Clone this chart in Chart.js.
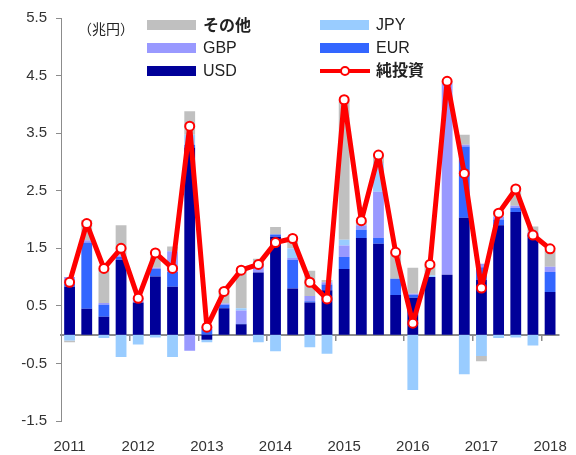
<!DOCTYPE html>
<html>
<head>
<meta charset="utf-8">
<script src="https://cdn.jsdelivr.net/npm/chart.js@4.4.0/dist/chart.umd.min.js"></script>
<style>
    body { margin: 0; background: #fff; }
    #wrap { position: relative; width: 576px; height: 455px; }
    .lg { position: absolute; font-family: "Liberation Sans", Arial, sans-serif; font-size: 16px; color: #222; line-height: 20px; }
    .jp { font-family: "Noto Sans CJK JP", sans-serif; font-weight: bold; font-size: 16px; }
    .sw { position: absolute; width: 49px; height: 10px; }
    .netline { position: absolute; width: 50px; height: 4px; background: #ff0000; }
    .netdot { position: absolute; width: 6px; height: 6px; border: 2px solid #ff0000; border-radius: 50%; background: #fff; }
</style>
</head>
<body>
<div id="wrap">
    <canvas id="chart" width="576" height="455"></canvas>
    <div class="lg" style="left:78px; top:18px; font-family:'Noto Sans CJK JP',sans-serif; font-size:14px;">（兆円）</div>

    <div class="sw" style="left:147px; top:20px; background:#c0c0c0;"></div>
    <div class="lg jp" style="left:203px; top:14px;">その他</div>
    <div class="sw" style="left:147px; top:43px; background:#9999ff;"></div>
    <div class="lg" style="left:203px; top:38px;">GBP</div>
    <div class="sw" style="left:147px; top:66px; background:#000099;"></div>
    <div class="lg" style="left:203px; top:61px;">USD</div>

    <div class="sw" style="left:320px; top:20px; background:#99ccff;"></div>
    <div class="lg" style="left:376px; top:15px;">JPY</div>
    <div class="sw" style="left:320px; top:43px; background:#3366ff;"></div>
    <div class="lg" style="left:376px; top:38px;">EUR</div>
    <div class="netline" style="left:320px; top:69px;"></div>
    <div class="netdot" style="left:340px; top:66px;"></div>
    <div class="lg jp" style="left:376px; top:59px;">純投資</div>
</div>
<script>
    // quarterly, 2011Q1 - 2018Q1
    const xLabels = ["2011", "", "", "", "2012", "", "", "", "2013", "", "", "", "2014", "", "", "",
        "2015", "", "", "", "2016", "", "", "", "2017", "", "", "", "2018"];

    const usd = [0.83, 0.45, 0.31, 1.30, 0.56, 1.01, 0.83, 3.25, -0.09, 0.46, 0.18, 1.08, 1.70, 0.80, 0.56,
        0.77, 1.14, 1.68, 1.58, 0.69, 0.64, 1.00, 1.04, 2.03, 0.95, 1.90, 2.13, 1.73, 0.74];
    const eur = [0.05, 1.15, 0.21, 0.05, 0.00, 0.13, 0.26, 0.05, 0.10, 0.06, 0.01, 0.00, 0.04, 0.50, 0.02,
        0.10, 0.21, 0.14, 0.10, 0.28, 0.05, 0.00, 0.00, 1.24, 0.22, 0.10, 0.07, 0.03, 0.35];
    const gbp = [0.12, 0.04, 0.03, 0.03, 0.07, 0.02, 0.36, -0.28, 0.04, 0.02, 0.23, 0.14, 0.00, 0.03, 0.09,
        0.04, 0.20, 0.08, 0.80, 0.00, 0.02, 0.00, 3.33, 0.03, 0.06, 0.05, 0.04, 0.02, 0.09];
    const jpy = [-0.10, 0.00, -0.06, -0.39, -0.17, -0.05, -0.39, 0.17, -0.04, 0.00, 0.04, -0.13, -0.29, 0.17, -0.22,
        -0.33, 0.10, 0.00, 0.50, 0.00, -0.96, 0.03, 0.00, -0.69, -0.37, -0.06, -0.05, -0.19, 0.00];
    const other = [-0.03, 0.35, 0.60, 0.52, 0.00, 0.20, 0.08, 0.41, 0.00, 0.25, 0.66, 0.10, 0.13, 0.13, 0.44,
        0.04, 2.42, 0.08, 0.14, 0.45, 0.45, 0.18, 0.03, 0.17, -0.09, 0.10, 0.25, 0.10, 0.28];
    const net = [0.91, 1.93, 1.15, 1.50, 0.63, 1.42, 1.15, 3.62, 0.13, 0.75, 1.12, 1.22, 1.60, 1.67, 0.91,
        0.62, 4.08, 1.98, 3.12, 1.43, 0.20, 1.22, 4.40, 2.80, 0.81, 2.11, 2.53, 1.73, 1.49];

    const axisGray = "#8c8c8c";
    const tickFont = { family: "'Liberation Sans', Arial, sans-serif", size: 15 };

    function barSet(label, data, color) {
        return {
            type: "bar",
            label: label,
            data: data,
            backgroundColor: color,
            borderWidth: 0,
            stack: "fx",
            barPercentage: 0.63,
            categoryPercentage: 1,
            order: 2
        };
    }

    const ctx = document.getElementById("chart").getContext("2d");
    const chart = new Chart(ctx, {
        data: {
            labels: xLabels,
            datasets: [
                {
                    type: "line",
                    label: "純投資",
                    data: net,
                    stack: "net",
                    borderColor: "#ff0000",
                    borderWidth: 5,
                    borderJoinStyle: "round",
                    borderCapStyle: "round",
                    pointRadius: 4.5,
                    pointBackgroundColor: "#ffffff",
                    pointBorderColor: "#ff0000",
                    pointBorderWidth: 2,
                    tension: 0,
                    order: 0
                },
                barSet("USD", usd, "#000099"),
                barSet("EUR", eur, "#3366ff"),
                barSet("GBP", gbp, "#9999ff"),
                barSet("JPY", jpy, "#99ccff"),
                barSet("その他", other, "#c0c0c0")
            ]
        },
        options: {
            responsive: false,
            animation: false,
            layout: { padding: { top: 18, right: 13, left: 0, bottom: 0 } },
            plugins: {
                legend: { display: false },
                tooltip: { enabled: false }
            },
            scales: {
                x: {
                    type: "category",
                    stacked: true,
                    offset: true,
                    position: { y: 0 },
                    ticks: { display: false, autoSkip: false },
                    grid: {
                        offset: true,
                        drawOnChartArea: false,
                        drawTicks: true,
                        tickLength: 5,
                        lineWidth: 1.5,
                        color: (c) => (c.index > 0 && c.index < xLabels.length && c.index % 4 === 0) ? axisGray : "rgba(0,0,0,0)"
                    },
                    border: { display: true, color: axisGray, width: 2 }
                },
                x2: {
                    type: "category",
                    labels: xLabels,
                    offset: true,
                    position: "bottom",
                    grid: { display: false },
                    border: { display: false },
                    ticks: { autoSkip: false, maxRotation: 0, padding: 9, color: "#333", font: tickFont },
                    afterFit: (s) => { s.height = 34; }
                },
                y: {
                    stacked: true,
                    min: -1.5,
                    max: 5.5,
                    ticks: {
                        stepSize: 1,
                        padding: 9,
                        color: "#333",
                        font: tickFont,
                        callback: (v) => v.toFixed(1)
                    },
                    grid: { drawOnChartArea: false, drawTicks: true, tickLength: 5, color: axisGray },
                    border: { display: true, color: axisGray, width: 1 },
                    afterFit: (s) => { s.width = 61; }
                }
            }
        }
    });
</script>
</body>
</html>
